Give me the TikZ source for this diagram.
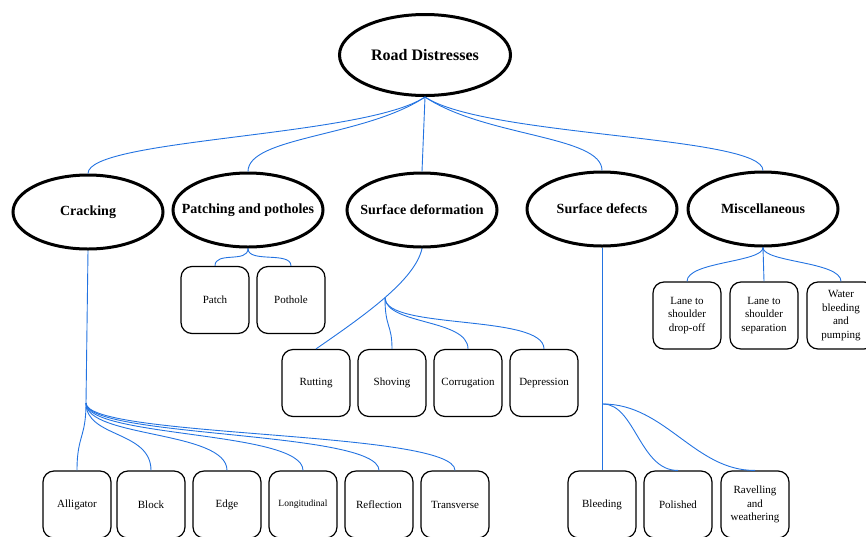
\documentclass[tikz,border=0pt]{standalone}
\usepackage{fontspec}
\setmainfont{Liberation Serif}
\usetikzlibrary{shapes.geometric}
\definecolor{linkblue}{RGB}{35,115,225}
\newcommand{\ctext}[1]{\makebox[0pt]{#1}}

\tikzset{
  category/.style={ellipse, draw, line width=3pt, minimum width=150pt, minimum height=74pt,
    inner sep=0pt, font=\bfseries\fontsize{14}{16}\selectfont},
  leaf/.style={draw, rounded corners=11pt, line width=1.2pt, minimum width=68pt, minimum height=67pt,
    inner sep=1pt, align=center, font=\fontsize{11}{13.5}\selectfont},
  link/.style={draw=linkblue, line width=0.9pt},
}

\begin{document}
\begin{tikzpicture}[x=1pt,y=-1pt]
    \useasboundingbox (0,0) rectangle (866,536);

    % root
    \node[category, minimum width=171pt, minimum height=81pt, font=\bfseries\fontsize{16}{18}\selectfont]
        (road) at (425,55) {\ctext{Road Distresses}};

    % categories
    \node[category] (crack)  at (88,212)  {\ctext{Cracking}};
    \node[category] (patch)  at (248,210) {\ctext{Patching and potholes}};
    \node[category] (deform) at (422,210) {\ctext{Surface deformation}};
    \node[category] (defect) at (602,209) {\ctext{Surface defects}};
    \node[category] (misc)   at (763,209) {\ctext{Miscellaneous}};

    % root to categories
    \foreach \cat/\dx in {crack/-60, patch/-60, defect/60, misc/60}
        \draw[link] (road.south) .. controls +(\dx,40) and +(0,-35) .. (\cat.north);
    \draw[link] (road.south) -- (deform.north);

    % cracking types
    \foreach \name/\x/\txt in {all/77/Alligator, blo/151/Block, edg/227/Edge,
            lon/303/{\fontsize{9.5}{11}\selectfont Longitudinal}, ref/379/Reflection, tra/455/Transverse}
        \node[leaf] (\name) at (\x,504.5) {\txt};
    \coordinate (cj) at (86,403);
    \draw[link] (crack.south) -- (cj);
    \draw[link] (cj) .. controls +(0,35) and +(0,-35) .. (all.north);
    \foreach \name in {blo,edg,lon,ref,tra}
        \draw[link] (cj) .. controls +(0,35) and +(0,-40) .. (\name.north);

    % patching and potholes
    \node[leaf] (pat) at (215,300) {Patch};
    \node[leaf] (pot) at (291,300) {Pothole};
    \foreach \name in {pat,pot}
        \draw[link] (patch.south) .. controls +(0,15) and +(0,-15) .. (\name.north);

    % surface deformation
    \foreach \name/\x/\txt in {rut/316/Rutting, sho/392/Shoving, cor/468/Corrugation, dep/544/Depression}
        \node[leaf] (\name) at (\x,383) {\txt};
    \coordinate (dj) at (385,298);
    \draw[link] (deform.south) .. controls (415,280) and (365,315) .. (rut.north);
    \draw[link] (dj) .. controls +(0,30) and +(0,-25) .. (sho.north);
    \draw[link] (dj) .. controls +(2,27) and +(0,-30) .. (cor.north);
    \draw[link] (dj) .. controls +(0,32) and +(0,-35) .. (dep.north);

    % surface defects
    \node[leaf] (ble) at (602,504.5) {Bleeding};
    \node[leaf] (pol) at (678,504.5) {Polished};
    \node[leaf] (rav) at (755,504.5) {Ravelling\\and\\weathering};
    \coordinate (fj) at (603,404);
    \draw[link] (defect.south) -- (ble.north);
    \draw[link] (fj) .. controls (635,404) and (640,471) .. (pol.north);
    \draw[link] (fj) .. controls (665,404) and (695,471) .. (rav.north);

    % miscellaneous
    \node[leaf] (dro) at (687,315.5) {Lane to\\shoulder\\drop-off};
    \node[leaf] (sep) at (764,315.5) {Lane to\\shoulder\\separation};
    \node[leaf] (wat) at (841,315.5) {Water\\bleeding\\and\\pumping};
    \draw[link] (misc.south) -- (sep.north);
    \foreach \name in {dro,wat}
        \draw[link] (misc.south) .. controls +(0,15) and +(0,-20) .. (\name.north);
\end{tikzpicture}
\end{document}
